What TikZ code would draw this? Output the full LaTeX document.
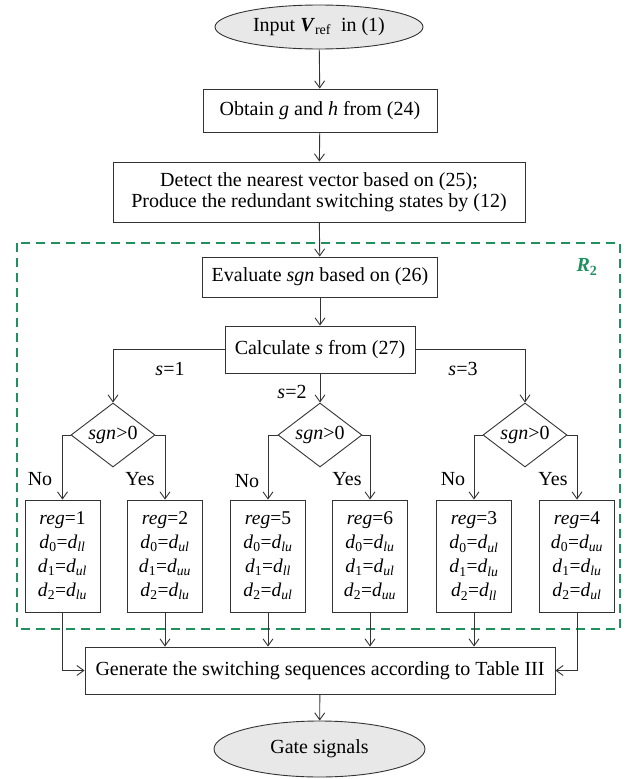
\documentclass[tikz,border=0pt]{standalone}
\usepackage{fontspec}
\setmainfont{Liberation Serif}
\usepackage{xcolor}
\usepackage{tikz}
\usetikzlibrary{shapes.geometric,arrows.meta}
\definecolor{regiongreen}{RGB}{30,145,95}
\definecolor{termgray}{RGB}{232,232,232}
\newcommand{\dcase}[2]{\textit{d}\textsubscript{#1}=\textit{d}\textsubscript{\textit{#2}}}

\begin{document}
\begin{tikzpicture}[x=1pt,y=-1pt,line width=0.9pt,
    >={Straight Barb[length=7pt,width=10pt]},
    font=\fontsize{20}{21}\selectfont,
    term/.style={ellipse, draw=black!80, fill=termgray, inner sep=0pt},
    procbox/.style={rectangle, draw=black!80, fill=white, inner sep=0pt},
    decide/.style={diamond, draw=black!80, aspect=1.3, inner sep=0pt,
        minimum width=84pt, minimum height=64pt},
    regbox/.style={procbox, minimum width=75pt, minimum height=112pt,
        align=center, font=\fontsize{19.5}{24}\selectfont},
    flow/.style={->, draw=black!80}]
\useasboundingbox (0,0) rectangle (628,779);

% Region R2
\draw[regiongreen, line width=1.8pt, dash pattern=on 9pt off 6pt]
    (17,243) rectangle (620,629);
\node[text=regiongreen] (rlabel) at (587,267)
    {\textbf{\textit{R}\textsubscript{2}}};

% Main chain
\node[term, minimum width=208pt, minimum height=44pt] (input) at (319,27)
    {Input \textbf{\textit{V}}\textsubscript{ref}\ \ in (1)};
\node[procbox, minimum width=234pt, minimum height=43pt] (obtain) at (320,110.5)
    {Obtain \textit{g} and \textit{h} from (24)};
\node[procbox, minimum width=412pt, minimum height=60pt, align=center] (detect) at (319,192)
    {Detect the nearest vector based on (25);\\
     Produce the redundant switching states by (12)};
\node[procbox, minimum width=235pt, minimum height=40pt] (evaluate) at (320,277)
    {Evaluate \textit{sgn} based on (26)};
\node[procbox, minimum width=190pt, minimum height=47pt] (calc) at (320,349.5)
    {Calculate \textit{s} from (27)};

% Decisions
\node[decide] (dia1) at (113,435) {\textit{sgn}>0};
\node[decide] (dia2) at (320,435) {\textit{sgn}>0};
\node[decide] (dia3) at (525,435) {\textit{sgn}>0};

% Regions
\node[regbox] (reg1) at (62.5,556)
    {\textit{reg}=1\\ \dcase{0}{ll}\\ \dcase{1}{ul}\\ \dcase{2}{lu}};
\node[regbox] (reg2) at (165,556)
    {\textit{reg}=2\\ \dcase{0}{ul}\\ \dcase{1}{uu}\\ \dcase{2}{lu}};
\node[regbox] (reg5) at (268,556)
    {\textit{reg}=5\\ \dcase{0}{lu}\\ \dcase{1}{ll}\\ \dcase{2}{ul}};
\node[regbox] (reg6) at (370,556)
    {\textit{reg}=6\\ \dcase{0}{lu}\\ \dcase{1}{ul}\\ \dcase{2}{uu}};
\node[regbox] (reg3) at (474,556)
    {\textit{reg}=3\\ \dcase{0}{ul}\\ \dcase{1}{lu}\\ \dcase{2}{ll}};
\node[regbox] (reg4) at (577,556)
    {\textit{reg}=4\\ \dcase{0}{uu}\\ \dcase{1}{lu}\\ \dcase{2}{ul}};

\node[procbox, minimum width=470pt, minimum height=47pt] (gen) at (320,670.5)
    {Generate the switching sequences according to Table III};
\node[term, minimum width=211pt, minimum height=56pt] (gate) at (319.5,749)
    {Gate signals};

% Branch labels
\node (s1) at (170,369) {\textit{s}=1};
\node (s2) at (292,392) {\textit{s}=2};
\node (s3) at (463,369) {\textit{s}=3};
\node (no1) at (40,479) {No};
\node (yes1) at (140,479) {Yes};
\node (no2) at (247,481) {No};
\node (yes2) at (347,479) {Yes};
\node (no3) at (453,479) {No};
\node (yes3) at (553,479) {Yes};

% Connectors
\draw[flow] (input) -- (obtain);
\draw[flow] (obtain) -- (detect);
\draw[flow] (detect) -- (evaluate);
\draw[flow] (evaluate) -- (calc);
\draw[flow] (calc.west) -| (dia1.north);
\draw[flow] (calc.south) -- (dia2.north);
\draw[flow] (calc.east) -| (dia3.north);
\draw[flow] (dia1.west) -| (reg1.north);
\draw[flow] (dia1.east) -| (reg2.north);
\draw[flow] (dia2.west) -| (reg5.north);
\draw[flow] (dia2.east) -| (reg6.north);
\draw[flow] (dia3.west) -| (reg3.north);
\draw[flow] (dia3.east) -| (reg4.north);
\draw[flow] (reg1.south) |- (gen.west);
\draw[flow] (reg2.south) -- (reg2.south |- gen.north);
\draw[flow] (reg5.south) -- (reg5.south |- gen.north);
\draw[flow] (reg6.south) -- (reg6.south |- gen.north);
\draw[flow] (reg3.south) -- (reg3.south |- gen.north);
\draw[flow] (reg4.south) |- (gen.east);
\draw[flow] (gen) -- (gate);
\end{tikzpicture}
\end{document}
